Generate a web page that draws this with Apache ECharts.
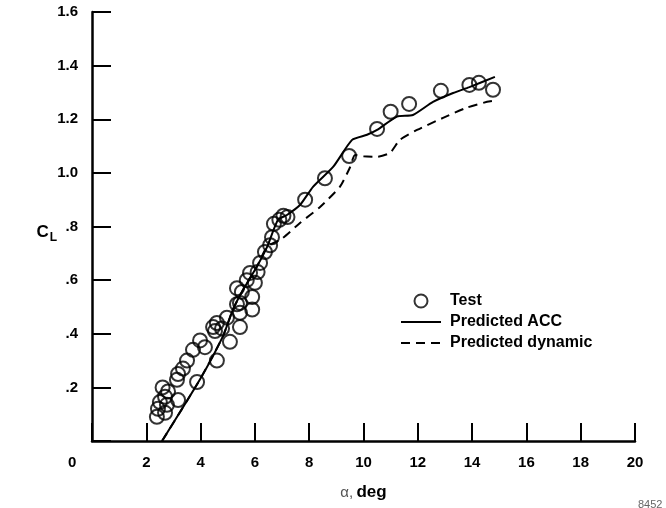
<!DOCTYPE html>
<html>
<head>
    <meta charset="utf-8">
    <title>CL vs alpha</title>
    <script src="https://cdn.jsdelivr.net/npm/echarts@6/dist/echarts.min.js"></script>
</head>
<body style="margin:0">
    <div id="main" style="width:666px;height:508px;"></div>
    <script type="text/javascript">
        // test points [alpha deg, CL]
        var testPoints = [
            [2.39, 0.09], [2.43, 0.12], [2.5, 0.145], [2.69, 0.105], [2.76, 0.135], [2.69, 0.165],
            [2.8, 0.185], [2.6, 0.2], [3.17, 0.153], [3.13, 0.228], [3.17, 0.25], [3.35, 0.27],
            [3.5, 0.30], [3.72, 0.34], [3.87, 0.22], [3.98, 0.375], [4.16, 0.35], [4.6, 0.30],
            [4.53, 0.41], [4.6, 0.44], [4.79, 0.42], [4.97, 0.46], [5.08, 0.37], [5.34, 0.51],
            [4.46, 0.425], [5.45, 0.425], [5.45, 0.478], [5.45, 0.515], [5.9, 0.49], [5.9, 0.537],
            [5.52, 0.556], [5.34, 0.57], [6.0, 0.59], [5.7, 0.60], [5.82, 0.627], [6.1, 0.63],
            [6.19, 0.664], [6.37, 0.705], [6.56, 0.73], [6.63, 0.76], [6.7, 0.81], [6.9, 0.825],
            [7.05, 0.84], [7.2, 0.835], [7.85, 0.90], [8.58, 0.98], [9.47, 1.063], [10.5, 1.164],
            [11.0, 1.228], [11.68, 1.257], [12.85, 1.306], [13.9, 1.328], [14.25, 1.336], [14.77, 1.31]
        ];
        var accLine = [
            [2.58, 0], [3.98, 0.23], [4.82, 0.39], [5.19, 0.49], [5.56, 0.563], [6.07, 0.65],
            [6.45, 0.724], [6.85, 0.825], [7.18, 0.843], [7.66, 0.88], [8.14, 0.948], [8.88, 1.022],
            [9.58, 1.123], [10.13, 1.142], [10.5, 1.16], [11.23, 1.21], [11.82, 1.216], [12.56, 1.265],
            [13.3, 1.298], [13.9, 1.32], [14.84, 1.358]
        ];
        var dynamicLine = [
            [2.58, 0], [3.98, 0.23], [4.82, 0.39], [5.19, 0.49], [5.56, 0.563], [6.07, 0.65],
            [6.45, 0.724], [7.0, 0.755], [7.66, 0.813], [8.4, 0.873], [9.13, 0.948], [9.5, 1.02],
            [9.69, 1.067], [10.0, 1.062], [10.5, 1.06], [10.98, 1.075], [11.34, 1.123], [11.97, 1.16],
            [12.93, 1.205], [13.8, 1.243], [14.55, 1.265], [14.84, 1.27]
        ];
        var seriesNames = ['Test', 'Predicted ACC', 'Predicted dynamic'];

        var font = '"Liberation Sans", Arial, Helvetica, sans-serif';
        var myChart = echarts.init(document.getElementById('main'));
        var option = {
            backgroundColor: '#fff',
            animation: false,
            textStyle: { fontFamily: font },
            grid: { left: 92, right: 31, top: 12, bottom: 67 },
            legend: {
                orient: 'vertical',
                left: 395, top: 288,
                itemWidth: 40, itemHeight: 13, itemGap: 5,
                selectedMode: false,
                textStyle: { fontFamily: font, fontWeight: 'bold', fontSize: 16, color: '#000', padding: [0, 0, 0, 4] },
                data: [
                    { name: seriesNames[0] },
                    // hide the dot that line series put in their legend icon
                    { name: seriesNames[1], itemStyle: { opacity: 0 } },
                    { name: seriesNames[2], itemStyle: { opacity: 0 } }
                ]
            },
            xAxis: {
                type: 'value', min: 0, max: 20, interval: 2,
                name: '{a|α,} {d|deg}',
                nameLocation: 'middle', nameGap: 43,
                nameTextStyle: {
                    rich: {
                        a: { fontFamily: font, fontSize: 15, color: '#555' },
                        d: { fontFamily: font, fontSize: 17, fontWeight: 'bold', color: '#000' }
                    }
                },
                splitLine: { show: false },
                axisLine: { lineStyle: { color: '#000', width: 2.5 } },
                axisTick: { inside: true, length: 18, lineStyle: { color: '#000', width: 2 } },
                axisLabel: {
                    margin: 14, fontFamily: font, fontWeight: 'bold', fontSize: 15, color: '#000',
                    formatter: function (v) { return v === 0 ? '' : String(v); }
                }
            },
            yAxis: {
                type: 'value', min: 0, max: 1.6, interval: 0.2,
                name: '{c|C}{l|L}',
                nameLocation: 'middle', nameRotate: 0, nameGap: 35,
                nameMoveOverlap: false,
                nameTextStyle: {
                    padding: [12, 0, 0, 0],
                    rich: {
                        c: { fontFamily: font, fontSize: 17, fontWeight: 'bold', color: '#000' },
                        l: { fontFamily: font, fontSize: 12, fontWeight: 'bold', color: '#000', padding: [10, 0, 0, 1] }
                    }
                },
                splitLine: { show: false },
                axisLine: { lineStyle: { color: '#000', width: 2.5 } },
                axisTick: { inside: true, length: 19, lineStyle: { color: '#000', width: 2 } },
                axisLabel: {
                    margin: 14, fontFamily: font, fontWeight: 'bold', fontSize: 15, color: '#000',
                    formatter: function (v) {
                        if (v === 0) return '';
                        var s = v.toFixed(1);
                        return v < 1 ? s.substring(1) : s;
                    }
                }
            },
            graphic: [
                { type: 'text', left: 68, top: 455, style: { text: '0', font: 'bold 15px ' + font, fill: '#000' } },
                { type: 'text', left: 638, top: 499, style: { text: '8452', font: '11px ' + font, fill: '#666' } }
            ],
            series: [
                {
                    name: seriesNames[0], type: 'scatter', data: testPoints, z: 3,
                    symbol: 'circle', symbolSize: 14,
                    itemStyle: { color: 'rgba(0,0,0,0)', borderColor: '#000', borderWidth: 2 },
                    emphasis: { disabled: true }
                },
                {
                    name: seriesNames[1], type: 'line', data: accLine, symbol: 'none', smooth: 0.2,
                    lineStyle: { color: '#000', width: 2 }
                },
                {
                    name: seriesNames[2], type: 'line', data: dynamicLine, symbol: 'none', smooth: 0.2,
                    lineStyle: { color: '#000', width: 2, type: [9, 6] }
                }
            ]
        };
        myChart.setOption(option);
    </script>
</body>
</html>
